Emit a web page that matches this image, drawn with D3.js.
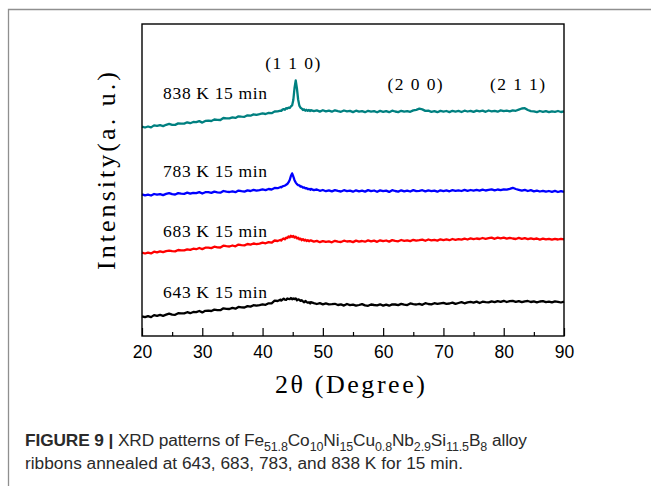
<!DOCTYPE html>
<html>
<head>
<meta charset="utf-8">
<script src="https://cdn.jsdelivr.net/npm/d3@7"></script>
<style>
  html, body { margin: 0; padding: 0; background: #fff; }
  svg { display: block; }
</style>
</head>
<body>
<svg id="fig" width="651" height="486"></svg>
<script>
// 2θ grid (degrees): coarse steps, finer around the (1 1 0) reflection
const twoTheta = [
  20,20.5,21,21.5,22,22.5,23,23.5,24,24.5,
  25,25.5,26,26.5,27,27.5,28,28.5,29,29.5,
  30,30.5,31,31.5,32,32.5,33,33.5,34,34.5,
  35,35.5,36,36.5,37,37.5,38,38.5,39,39.5,
  40,40.5,41,41.5,42,42.5,43,
  43.1,43.3,43.5,43.7,43.9,44.1,44.3,44.5,44.7,44.9,
  45.1,45.3,45.5,45.7,45.9,46.1,46.3,46.5,46.7,46.9,
  47.1,47.3,47.5,47.7,47.9,
  48,48.5,49,49.5,50,50.5,51,51.5,52,52.5,
  53,53.5,54,54.5,55,55.5,56,56.5,57,57.5,
  58,58.5,59,59.5,60,60.5,61,61.5,62,62.5,
  63,63.5,64,64.5,65,65.5,66,66.5,67,67.5,
  68,68.5,69,69.5,70,70.5,71,71.5,72,72.5,
  73,73.5,74,74.5,75,75.5,76,76.5,77,77.5,
  78,78.5,79,79.5,80,80.5,81,81.5,82,82.5,
  83,83.5,84,84.5,85,85.5,86,86.5,87,87.5,
  88,88.5,89,89.5,90
];

// Stacked intensities (a.u., offset per pattern)
const i643 = [
  19.6,18.8,19.8,18.9,20.9,20.2,21.1,20.2,21.3,22.4,
  21.4,21.2,22.8,22.6,22.6,23.8,22.8,24.0,23.9,25.0,
  23.6,25.2,25.4,25.0,26.4,25.9,25.8,27.7,27.2,27.0,
  28.1,27.3,29.1,28.7,28.5,29.9,29.4,30.8,30.3,30.9,
  31.6,31.2,32.7,32.6,35.3,35.0,36.4,
  35.4,36.4,37.4,36.3,36.1,37.5,37.1,36.9,38.0,36.7,
  37.5,36.9,37.6,35.7,36.7,36.2,35.1,35.8,34.6,33.7,
  35.0,34.0,33.3,33.8,32.5,
  33.9,32.9,32.0,32.8,31.7,32.7,31.7,31.9,32.2,31.0,
  31.6,30.4,32.0,30.9,31.4,30.3,31.0,31.9,30.6,30.2,
  31.5,31.0,30.7,31.7,30.4,31.4,30.3,31.6,31.5,30.9,
  32.1,31.4,30.9,32.6,31.9,31.5,32.2,31.2,32.8,32.0,
  31.6,32.8,32.1,32.6,33.1,32.2,32.5,33.4,32.1,33.0,
  33.9,32.7,33.6,34.1,33.3,34.4,33.0,34.3,33.9,33.6,
  34.6,33.8,34.9,34.1,35.2,34.0,34.8,35.1,34.1,34.9,
  33.8,34.7,35.0,34.0,34.6,33.7,34.5,34.9,33.8,34.4,
  33.6,34.7,34.2,33.5,34.3
];

const i683 = [
  83.3,82.5,83.4,82.6,84.3,83.6,84.6,83.8,84.8,85.4,
  84.8,84.6,86.0,85.7,85.6,86.7,86.1,87.3,86.8,88.0,
  86.9,88.3,88.4,87.9,89.3,88.7,88.5,90.3,89.8,89.5,
  90.5,89.7,91.4,90.9,90.6,92.0,91.4,92.5,91.9,92.4,
  93.3,92.7,93.9,93.3,95.5,95.0,96.2,
  95.4,96.9,97.5,96.8,98.4,97.9,99.5,98.6,100.2,99.0,
  100.1,98.4,99.2,97.6,98.3,96.7,97.4,95.8,96.9,95.5,
  96.3,94.9,95.9,94.8,95.6,
  95.6,94.4,95.1,93.8,94.9,94.1,94.6,93.7,95.2,94.3,
  94.0,95.3,94.5,94.9,93.9,95.4,94.4,95.0,94.3,95.6,
  94.6,95.3,94.2,95.7,94.8,95.5,94.4,95.9,95.2,94.7,
  96.0,95.1,95.7,94.9,96.2,95.3,95.8,96.4,95.2,96.5,
  95.6,96.2,95.4,96.7,95.9,96.6,95.8,97.0,96.2,96.9,
  96.4,97.4,96.5,97.6,96.8,97.5,97.0,98.0,97.1,97.8,
  98.3,97.2,98.4,97.6,98.3,97.3,98.2,97.5,97.0,98.1,
  97.2,97.8,96.8,97.7,96.9,97.5,96.4,97.3,96.6,97.2,
  96.3,97.1,96.5,97.2,96.6
];

const i783 = [
  141.6,140.6,141.4,140.5,142.0,141.3,141.9,140.9,142.1,142.8,
  141.8,141.5,142.9,142.4,142.2,143.3,142.3,143.2,142.9,143.9,
  142.5,143.8,143.8,143.1,144.4,143.7,143.3,145.0,144.3,144.0,
  144.7,143.8,145.4,144.8,144.4,145.6,145.0,146.1,145.3,145.8,
  146.6,145.9,147.0,146.5,148.0,147.8,149.0,
  148.6,149.6,150.0,150.3,151.2,152.0,153.6,156.0,160.0,162.6,
  159.5,155.8,153.4,151.9,150.9,150.6,149.4,149.5,148.4,148.6,
  147.6,147.9,146.8,147.2,146.3,
  147.1,145.9,146.5,145.2,146.0,144.8,145.7,144.6,145.9,145.1,
  144.5,145.8,144.9,145.4,144.3,145.7,144.7,145.3,144.4,145.9,
  144.8,145.5,144.2,145.6,144.9,145.4,144.1,145.8,145.0,144.4,
  145.7,144.6,145.3,144.5,145.9,144.8,145.2,145.8,144.6,145.6,
  144.9,145.4,144.3,145.7,144.9,145.6,144.7,145.9,145.1,145.7,
  145.0,146.1,145.2,146.0,145.3,146.2,145.4,146.4,145.5,146.1,
  146.6,145.6,146.5,145.9,146.7,146.3,147.2,148.2,147.0,146.2,
  145.4,146.1,145.0,145.8,144.7,145.4,144.5,145.2,144.3,145.0,
  144.2,145.1,144.0,144.9,144.2
];

const i838 = [
  209.3,208.5,209.5,208.6,210.6,210.1,210.8,209.9,211.2,212.2,
  211.2,211.1,212.6,212.4,212.4,213.7,212.8,214.0,213.8,214.9,
  213.4,215.1,215.3,215.0,216.5,216.1,216.0,218.0,217.6,217.6,
  218.6,218.1,219.7,219.4,219.2,220.7,220.3,221.6,221.1,221.8,
  222.6,222.0,223.1,222.8,224.5,224.6,225.4,
  225.1,226.4,226.9,226.3,227.9,227.4,228.3,228.0,229.6,230.6,
  236.0,248.0,255.5,247.5,236.5,230.4,228.2,227.4,226.0,226.6,
  225.3,226.2,225.2,226.0,224.9,
  225.9,224.8,225.6,224.4,225.8,224.6,225.4,224.3,225.7,224.9,
  224.2,225.5,224.6,225.1,223.9,225.3,224.3,224.9,223.8,225.2,
  224.4,224.9,223.7,225.1,224.2,224.9,223.8,225.3,224.5,223.9,
  225.2,224.3,224.9,224.2,225.6,226.2,227.3,226.6,225.1,225.3,
  224.2,224.9,223.8,225.1,224.3,225.0,223.9,225.2,224.4,225.1,
  224.0,225.3,224.5,225.2,224.1,225.4,224.6,225.3,224.2,225.5,
  224.7,225.2,224.3,225.6,224.8,225.3,224.6,225.7,225.2,226.4,
  227.5,227.8,226.0,224.9,224.6,223.9,225.0,224.1,224.8,223.8,
  224.7,224.2,225.0,224.0,224.6
];

const seriesNames = ["643 K 15 min", "683 K 15 min", "783 K 15 min", "838 K 15 min"];
const peakLabels = ["(1 1 0)", "(2 0 0)", "(2 1 1)"];
const peakAngles = [45.0, 65.3, 82.3];
const majorTicks = [20, 30, 40, 50, 60, 70, 80, 90];
const minorTicks = [25, 35, 45, 55, 65, 75, 85];

const allSeries = [i643, i683, i783, i838];
allSeries.forEach((s, k) => {
  if (s.length !== twoTheta.length) throw new Error("length mismatch in series " + k + ": " + s.length + " vs " + twoTheta.length);
});

const colors = ["#000000", "#ff0000", "#0000ff", "#008080"];
const serif = "'Liberation Serif', 'DejaVu Serif', serif";
const sans = "'Liberation Sans', Arial, sans-serif";

const svg = d3.select("#fig");
svg.append("rect").attr("width", 651).attr("height", 486).attr("fill", "#fff");

// figure panel border (top and left rules)
svg.append("path")
  .attr("d", "M8.5,486 V9.5 H651")
  .attr("fill", "none").attr("stroke", "#8f8f8f").attr("stroke-width", 1.3);

const plot = { left: 142, right: 564, top: 24, bottom: 336 };
const x = d3.scaleLinear().domain([20, 90]).range([plot.left, plot.right]);
const y = d3.scaleLinear().domain([0, 312]).range([plot.bottom, plot.top]);

// patterns
const line = d3.line().x(d => x(d[0])).y(d => y(d[1]));
allSeries.forEach((s, k) => {
  svg.append("path")
    .datum(twoTheta.map((t, i) => [t, s[i]]))
    .attr("d", line)
    .attr("fill", "none")
    .attr("stroke", colors[k])
    .attr("stroke-width", 2.3)
    .attr("stroke-linejoin", "round");
});

// axes: inward ticks on the bottom edge only
const gx = svg.append("g").attr("transform", `translate(0,${plot.bottom})`);
gx.call(d3.axisBottom(x).tickValues(majorTicks).tickSize(-8).tickPadding(9.5).tickFormat(d3.format("d")));
gx.select(".domain").remove();
gx.selectAll(".tick line").attr("stroke", "#000").attr("stroke-width", 1.2);
gx.selectAll(".tick text").attr("font-family", sans).attr("font-size", 17.5).attr("fill", "#000");

const gm = svg.append("g").attr("transform", `translate(0,${plot.bottom})`);
gm.call(d3.axisBottom(x).tickValues(minorTicks).tickSize(-4).tickFormat(""));
gm.select(".domain").remove();
gm.selectAll(".tick line").attr("stroke", "#000").attr("stroke-width", 1.2);

// plot frame
svg.append("rect")
  .attr("x", plot.left).attr("y", plot.top)
  .attr("width", plot.right - plot.left).attr("height", plot.bottom - plot.top)
  .attr("fill", "none").attr("stroke", "#000").attr("stroke-width", 1.4);

// pattern labels
const labelAngle = 23.5;
const labelLevel = [38, 99.5, 159, 237];
seriesNames.forEach((name, k) => {
  svg.append("text")
    .attr("x", x(labelAngle)).attr("y", y(labelLevel[k]))
    .attr("font-family", serif).attr("font-size", 17.5)
    .attr("textLength", 104).attr("lengthAdjust", "spacing")
    .attr("fill", "#000")
    .text(name);
});

// reflection indices
const peakLevel = [267, 246, 246];
peakLabels.forEach((lab, k) => {
  svg.append("text")
    .attr("x", x(peakAngles[k])).attr("y", y(peakLevel[k]))
    .attr("text-anchor", "middle")
    .attr("font-family", serif).attr("font-size", 17.5)
    .attr("textLength", 55).attr("lengthAdjust", "spacing")
    .attr("fill", "#000")
    .text(lab);
});

// axis titles
svg.append("text")
  .attr("transform", "translate(115,171) rotate(-90)")
  .attr("text-anchor", "middle")
  .attr("font-family", serif).attr("font-size", 26)
  .attr("textLength", 198).attr("lengthAdjust", "spacing")
  .attr("fill", "#000")
  .text("Intensity(a. u.)");

svg.append("text")
  .attr("x", 350).attr("y", 393)
  .attr("text-anchor", "middle")
  .attr("font-family", serif).attr("font-size", 26)
  .attr("textLength", 150).attr("lengthAdjust", "spacing")
  .attr("fill", "#000")
  .text("2θ (Degree)");

// caption, with subscripted composition
const cap = svg.append("text")
  .attr("x", 25).attr("y", 446)
  .attr("font-family", sans).attr("font-size", 17.3).attr("fill", "#2a2a2a")
  .attr("textLength", 502).attr("lengthAdjust", "spacing");
cap.append("tspan").attr("font-weight", "bold").text("FIGURE 9 | ");
cap.append("tspan").text("XRD patterns of ");
const formula = [["Fe", "51.8"], ["Co", "10"], ["Ni", "15"], ["Cu", "0.8"], ["Nb", "2.9"], ["Si", "11.5"], ["B", "8"]];
formula.forEach(([el, n], k) => {
  cap.append("tspan").attr("dy", k === 0 ? 0 : -4.5).text(el);
  cap.append("tspan").attr("font-size", 12.5).attr("dy", 4.5).text(n);
});
cap.append("tspan").attr("dy", -4.5).text(" alloy");

svg.append("text")
  .attr("x", 25).attr("y", 469)
  .attr("font-family", sans).attr("font-size", 17.3).attr("fill", "#2a2a2a")
  .attr("textLength", 438).attr("lengthAdjust", "spacing")
  .text("ribbons annealed at 643, 683, 783, and 838 K for 15 min.");
</script>
</body>
</html>
